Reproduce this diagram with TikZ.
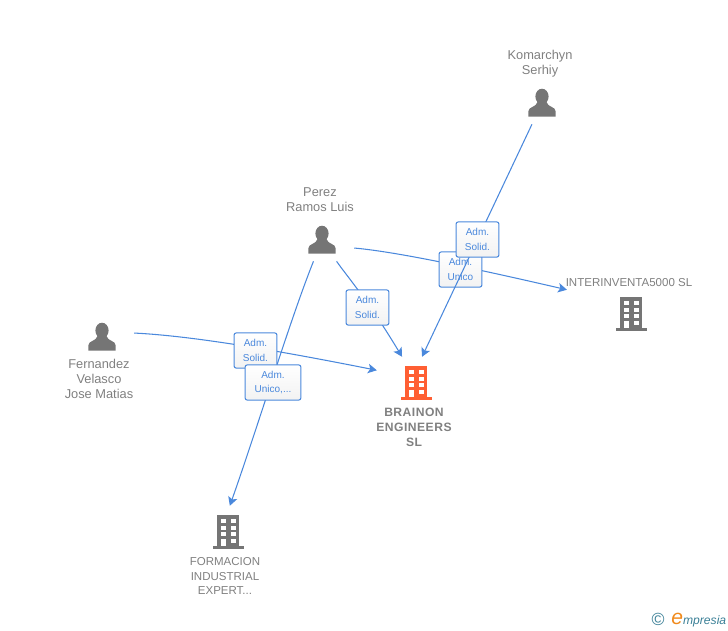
\documentclass[tikz,border=0pt]{standalone}
\usepackage{fontspec}
\setmainfont{Liberation Sans}
\usetikzlibrary{arrows.meta}
\definecolor{linkblue}{HTML}{4A88DC}
\definecolor{icongray}{HTML}{757575}
\definecolor{textgray}{HTML}{808080}
\definecolor{mainorange}{HTML}{FF5F33}
\definecolor{logoteal}{HTML}{3A7F96}
\definecolor{logoorange}{HTML}{F08A1D}
\newfontfamily\mainlabelfont[LetterSpace=4]{Liberation Sans}
\tikzset{
	anchorbox/.style={minimum width=#1,minimum height=42*0.5669pt,inner sep=0pt},
	link/.style={draw=linkblue,line width=0.6pt,-{Stealth[length=5pt,width=5.4pt,inset=1.2pt]}},
	rolebox/.style={draw=linkblue,line width=0.6pt,rounded corners=1.2pt,top color=white,bottom color=black!5,
		text=linkblue,font=\fontsize{5.7}{8.5}\selectfont,align=center,minimum height=20pt,inner sep=0pt},
	personlabel/.style={text=textgray,font=\fontsize{7.3}{8.5}\selectfont,align=center,inner sep=0pt},
	companylabel/.style={text=textgray,font=\fontsize{6.55}{8.5}\selectfont,align=center,inner sep=0pt},
	mainlabel/.style={text=textgray,font=\fontsize{6.9}{8.5}\mainlabelfont\bfseries,align=center,inner sep=0pt},
	pics/personicon/.style={code={
		\fill[icongray] (0,-6.5) ellipse (6.6 and 7.8);
		\fill[icongray] (-13.7,13.5) -- (-13.7,8.5) .. controls (-13.7,3.5) and (-6,4.5) .. (-4.5,-1) -- (4.5,-1)
			.. controls (6,4.5) and (13.7,3.5) .. (13.7,8.5) -- (13.7,13.5) -- cycle;
	}},
	pics/buildingicon/.style={code={
		\fill[#1] (-11,-17) rectangle (11,16);
		\fill[#1] (-15.5,14) rectangle (16,16.7);
		\foreach \wx in {-7.5,2.5} {
			\foreach \wy in {-13,-6.5,0} {
				\fill[white] (\wx,\wy) rectangle ++(5,4);
			}
		}
		\fill[white] (-7.5,6.5) rectangle ++(5,7.5);
		\fill[white] (2.5,6.5) rectangle ++(5,4.5);
	}}
}
\begin{document}
\begin{tikzpicture}[x=0.02cm,y=-0.02cm]
	\useasboundingbox (0,0) rectangle (728,630);
	%
	\node[anchorbox=64*0.5669pt] (komarchyn) at (542,103) {};
	\node[anchorbox=64*0.5669pt] (perez)     at (322,240) {};
	\node[anchorbox=64*0.5669pt] (fernandez) at (102,337) {};
	\node[anchorbox=78*0.5669pt,minimum height=52*0.5669pt] (brainon) at (416,383) {};
	\node[anchorbox=128*0.5669pt,minimum height=48*0.5669pt] (interinventa) at (631,314) {};
	\node[anchorbox=40*0.5669pt,minimum height=52*0.5669pt] (formacion) at (228,532) {};
	%
	\pic at (komarchyn) {personicon};
	\pic at (perez) {personicon};
	\pic at (fernandez) {personicon};
	\pic at (brainon) {buildingicon=mainorange};
	\pic at (interinventa) {buildingicon=icongray};
	\pic at (formacion) {buildingicon=icongray};
	%
	\node[personlabel] (komarchynname) at (540,64)  {Komarchyn\\Serhiy};
	\node[personlabel] (perezname)     at (320,200) {Perez\\Ramos Luis};
	\node[personlabel] (fernandezname) at (99,379)  {Fernandez\\Velasco\\Jose Matias};
	\node[mainlabel] (brainonname) at (414,427) {BRAINON\\ENGINEERS\\SL};
	\node[companylabel] (interinventaname) at (629,283) {INTERINVENTA5000 SL};
	\node[companylabel] (formacionname) at (225,576) {FORMACION\\INDUSTRIAL\\EXPERT...};
	%
	\draw[link] (perez.-14) .. controls (400,252) and (490,272) .. (interinventa.north west);
	\draw[link] (perez) .. controls (346,275) and (368,300) .. (brainon.118);
	\draw[link] (fernandez.7) .. controls (195,336) and (285,352) .. (brainon.162);
	\draw[link] (perez) .. controls (290,320) and (260,420) .. (formacion.86);
	%
	\node[rolebox,minimum width=43*0.5669pt] (roleunico) at (460.5,269.5) {Adm.\\Unico};
	\draw[link] (komarchyn) -- (brainon.77);
	\node[rolebox,minimum width=43*0.5669pt] (rolekomarchyn) at (477.5,239.5) {Adm.\\Solid.};
	\node[rolebox,minimum width=43*0.5669pt] (roleperez) at (367.5,307.5) {Adm.\\Solid.};
	\node[rolebox,minimum width=43*0.5669pt] (rolefernandez) at (255.5,350.5) {Adm.\\Solid.};
	\node[rolebox,minimum width=56*0.5669pt] (roleformacion) at (273,382.5) {Adm.\\Unico,...};
	%
	\node[text=logoteal,inner sep=0pt,font=\fontsize{10}{10}\selectfont] (logomark) at (658,619) {©};
	\node[anchor=west,inner sep=0pt,text=logoteal,font=\fontsize{6.9}{8}\selectfont\itshape] (logotext) at (671,620)
		{\textcolor{logoorange}{\fontsize{12}{8}\selectfont e}mpresia};
\end{tikzpicture}
\end{document}
